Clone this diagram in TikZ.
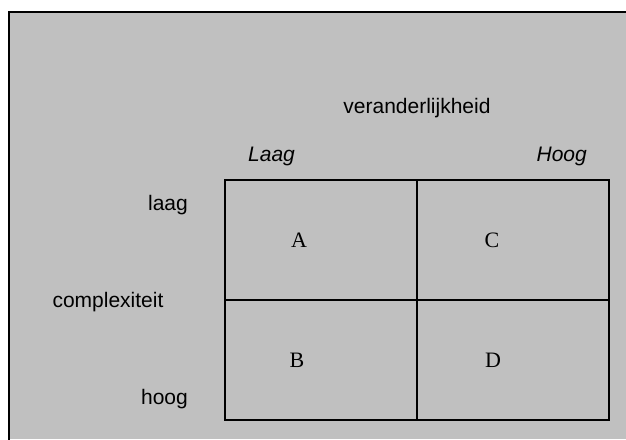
\documentclass[tikz,border=0pt]{standalone}
\usepackage{fontspec}
\setmainfont{Liberation Serif}
\newfontfamily\arialfam{Liberation Sans}
\definecolor{panelgray}{HTML}{C0C0C0}
\begin{document}
\begin{tikzpicture}[x=1pt,y=-1pt,
  sanslbl/.style={font=\arialfam\fontsize{21}{25}\selectfont, inner sep=0pt, anchor=base},
  italbl/.style={sanslbl, font=\arialfam\itshape\fontsize{21}{25}\selectfont},
  letter/.style={font=\fontsize{22}{26}\selectfont, inner sep=0pt, anchor=base},
  cell/.style={draw=black, line width=2pt, minimum width=192pt, minimum height=120pt, inner sep=0pt}]
\useasboundingbox (0,0) rectangle (626,439);
% panel with its left and top edge
\fill[panelgray] (9,12) rectangle (626,439);
\draw[line width=2.5pt, line cap=rect] (9,439) -- (9,12) -- (626,12);

% the 2x2 matrix
\node[cell] (cA) at (321,240) {};
\node[cell] (cC) at (513,240) {};
\node[cell] (cB) at (321,360) {};
\node[cell] (cD) at (513,360) {};

\node[letter] (A) at (299,247) {A};
\node[letter] (C) at (492,247) {C};
\node[letter] (B) at (297,367) {B};
\node[letter] (D) at (493,367) {D};

% axis labels
\node[sanslbl] (ver) at (417,113) {veranderlijkheid};
\node[italbl, anchor=base west] (lo) at (248,161) {Laag};
\node[italbl, anchor=base east] (hi) at (587,161) {Hoog};
\node[sanslbl] (cmp) at (108,307) {complexiteit};
\node[sanslbl, anchor=base east] (clo) at (188,210) {laag};
\node[sanslbl, anchor=base east] (chi) at (188,404) {hoog};
\end{tikzpicture}
\end{document}
